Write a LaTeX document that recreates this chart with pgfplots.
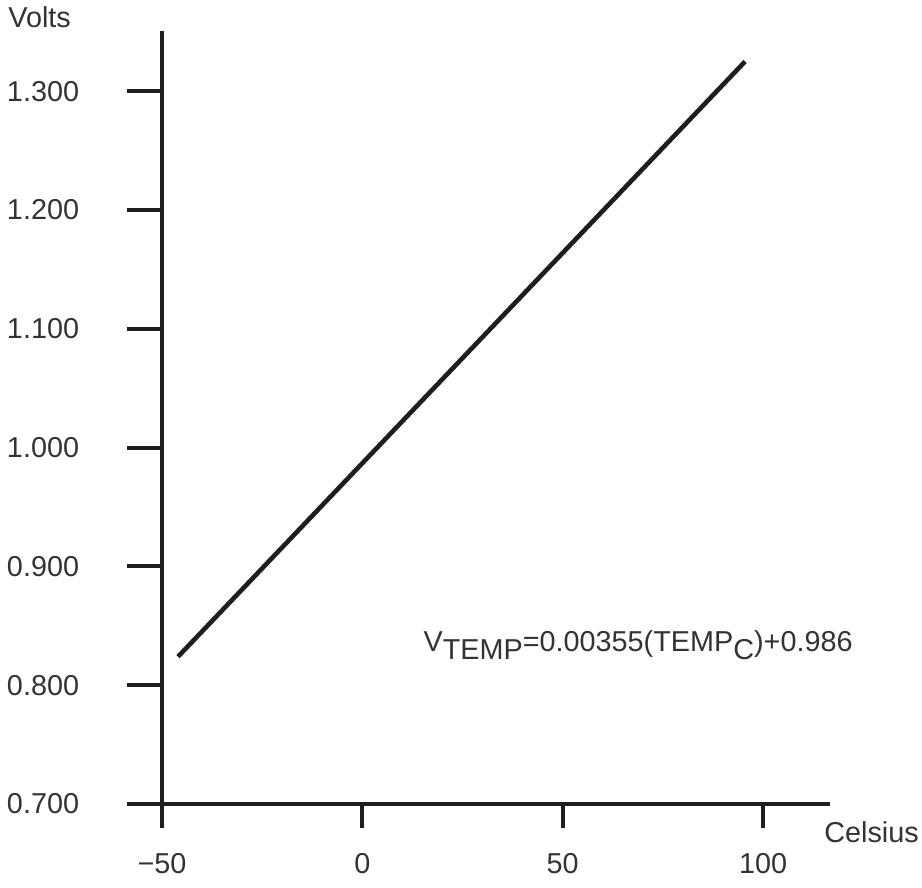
\documentclass[border=0pt]{standalone}
\usepackage{pgfplots}
\pgfplotsset{compat=1.18}
\usepackage{fontspec}
\setmainfont{Liberation Sans}
\definecolor{ink}{HTML}{1E1E1E}
\definecolor{txt}{HTML}{333333}
\newcommand{\chartfont}{\fontsize{14.4}{16}\selectfont}
\begin{document}
\begin{tikzpicture}
\begin{axis}[
  scale only axis,
  width=334pt, height=386.5pt,
  xmin=-50, xmax=116.7,
  ymin=0.7, ymax=1.3507,
  axis lines=left,
  axis line style={-, line width=2.2pt, color=ink, line cap=butt},
  clip=false,
  tick align=outside,
  xtick={-50,0,50,100},
  xticklabels={−50,0,50,100},
  ytick={0.7,0.8,0.9,1.0,1.1,1.2,1.3},
  yticklabels={0.700,0.800,0.900,1.000,1.100,1.200,1.300},
  x tick style={/pgfplots/major tick length=12pt, line width=2pt, color=ink},
  y tick style={/pgfplots/major tick length=17.5pt, line width=2pt, color=ink},
  xticklabel style={font=\chartfont, text=txt, anchor=base, inner sep=0pt, yshift=-30.5pt},
  yticklabel style={font=\chartfont, text=txt, anchor=east, inner sep=0pt, xshift=-37pt},
]
\addplot[line width=2.3pt, color=ink] coordinates {(-46,0.824) (95.5,1.325)};
\node[anchor=west, inner sep=0pt, font=\chartfont, text=txt] at (rel axis cs:0.991,-0.037) {Celsius};
\node[anchor=west, inner sep=0pt, font=\chartfont, text=txt] at ([xshift=-77pt,yshift=7pt]rel axis cs:0,1) {Volts};
\node[anchor=base west, inner sep=0pt, font=\chartfont, text=txt] at (rel axis cs:0.391,0.197) {V\raisebox{-4pt}{TEMP}=0.00355(TEMP\raisebox{-4pt}{C})+0.986};
\end{axis}
\pgfresetboundingbox
\path[use as bounding box] (-81pt,-42pt) rectangle (380pt,402pt);
\end{tikzpicture}
\end{document}
